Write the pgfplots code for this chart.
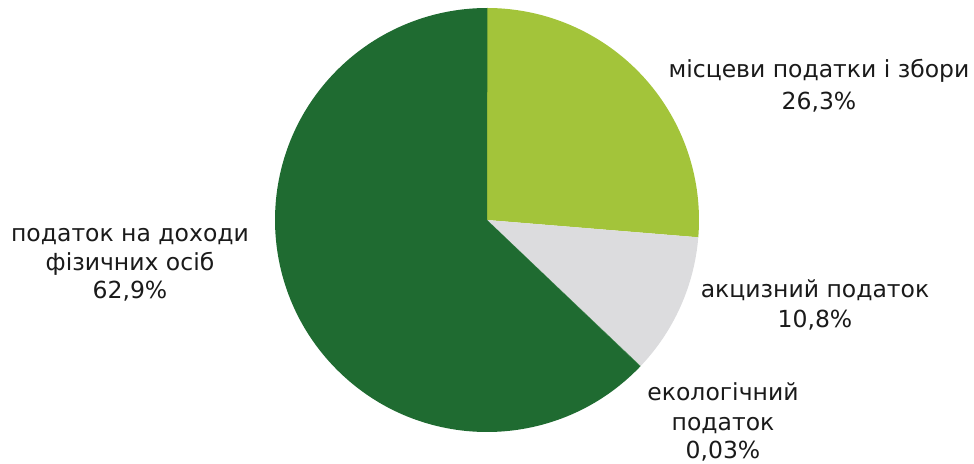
\documentclass[border=0pt]{standalone}
\usepackage{pgfplots}
\usepackage{pgfplotstable}
\pgfplotsset{compat=1.18}
\usepackage{fontspec}
\setmainfont{DejaVu Sans}
\definecolor{cLight}{HTML}{A3C43A}
\definecolor{cGray}{HTML}{DCDCDE}
\definecolor{cEco}{HTML}{2E7D3A}
\definecolor{cDark}{HTML}{1F6B31}
\definecolor{cText}{HTML}{1A1A1A}
\pgfplotstableread[col sep=comma]{
value,color
26.3,cLight
10.8,cGray
0.03,cEco
62.9,cDark
}\piedata
\begin{document}
\begin{tikzpicture}
\pgfplotstablegetelem{0}{value}\of\piedata \let\vA\pgfplotsretval
\pgfplotstablegetelem{1}{value}\of\piedata \let\vB\pgfplotsretval
\pgfplotstablegetelem{2}{value}\of\piedata \let\vC\pgfplotsretval
\pgfplotstablegetelem{3}{value}\of\piedata \let\vD\pgfplotsretval
\pgfmathsetmacro{\aA}{90-3.6*\vA}
\pgfmathsetmacro{\aB}{\aA-3.6*\vB}
\pgfmathsetmacro{\aC}{\aB-3.6*\vC}
\pgfmathsetmacro{\aD}{\aC-3.6*\vD}
\begin{axis}[
  name=main,
  width=974bp, height=464bp, scale only axis,
  xmin=0, xmax=974, ymin=0, ymax=464,
  hide axis, clip=false,
]
\fill[cLight] (axis cs:487,244) -- ++(90:212bp) arc[start angle=90, end angle=\aA, radius=212bp] -- cycle;
\fill[cGray] (axis cs:487,244) -- ++(\aA:212bp) arc[start angle=\aA, end angle=\aB, radius=212bp] -- cycle;
\fill[cEco] (axis cs:487,244) -- ++(\aB:212bp) arc[start angle=\aB, end angle=\aC, radius=212bp] -- cycle;
\fill[cDark] (axis cs:487,244) -- ++(\aC:212bp) arc[start angle=\aC, end angle=\aD, radius=212bp] -- cycle;
\begin{scope}[every node/.style={anchor=base, text=cText, font=\fontsize{23.5bp}{28bp}\selectfont, inner sep=0pt}]
\node at (axis cs:819,386) {місцеви податки і збори};
\node at (axis cs:819,354) {26,3\%};
\node at (axis cs:130,222) {податок на доходи};
\node at (axis cs:130,193) {фізичних осіб};
\node at (axis cs:130,165) {62,9\%};
\node at (axis cs:815,166) {акцизний податок};
\node at (axis cs:815,136) {10,8\%};
\node at (axis cs:723,63) {екологічний};
\node at (axis cs:723,33) {податок};
\node at (axis cs:723,5) {0,03\%};
\end{scope}
\end{axis}
\pgfresetboundingbox
\path (main.south west) rectangle (main.north east);
\end{tikzpicture}
\end{document}
